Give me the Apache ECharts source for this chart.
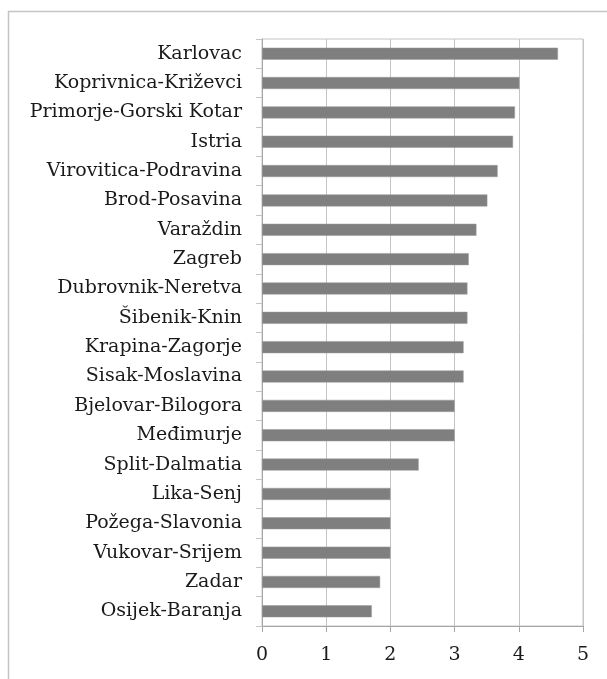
<!DOCTYPE html>
<html>
<head>
<meta charset="utf-8">
<script src="https://cdn.jsdelivr.net/npm/echarts@6/dist/echarts.min.js"></script>
<style>
html,body{margin:0;padding:0;background:#fff;}
#chart{width:607px;height:679px;}
</style>
</head>
<body>
<div id="chart"></div>
<script>
var categories = ["Karlovac","Koprivnica-Križevci","Primorje-Gorski Kotar","Istria","Virovitica-Podravina","Brod-Posavina","Varaždin","Zagreb","Dubrovnik-Neretva","Šibenik-Knin","Krapina-Zagorje","Sisak-Moslavina","Bjelovar-Bilogora","Međimurje","Split-Dalmatia","Lika-Senj","Požega-Slavonia","Vukovar-Srijem","Zadar","Osijek-Baranja"];
var values = [4.61,4.01,3.94,3.91,3.67,3.51,3.34,3.22,3.20,3.20,3.14,3.14,3.00,3.00,2.44,2.00,2.00,2.00,1.84,1.71];
var xTicks = ["0","1","2","3","4","5"];

var chart = echarts.init(document.getElementById('chart'), null, {renderer:'canvas'});
var font = '"DejaVu Serif", serif';
chart.setOption({
  animation:false,
  backgroundColor:'#fff',
  graphic:[{type:'rect', shape:{x:8.5,y:11.5,width:800,height:800}, style:{fill:'none',stroke:'#c4c4c4',lineWidth:1.5}, z:-1}],
  grid:{left:262,right:24,top:39,bottom:53,show:true,borderColor:'#c4c4c4',borderWidth:1},
  xAxis:{type:'value',min:0,max:5,interval:1,
    axisLine:{show:true,lineStyle:{color:'#a6a6a6'}},
    axisTick:{show:true,length:6,lineStyle:{color:'#a6a6a6'}},
    splitLine:{show:true,lineStyle:{color:'#c4c4c4'}},
    axisLabel:{margin:20,fontFamily:font,fontSize:19,color:'#1a1a1a',
      formatter:function(v){return xTicks[Math.round(v)];}}},
  yAxis:{type:'category',data:categories,inverse:true,
    axisLine:{show:true,lineStyle:{color:'#a6a6a6'}},
    axisTick:{show:true,length:6,lineStyle:{color:'#c4c4c4'}},
    splitLine:{show:false},
    axisLabel:{margin:20,fontFamily:font,fontSize:19,color:'#1a1a1a'}},
  series:[{type:'bar',data:values,barWidth:12,
    itemStyle:{color:'#7f7f7f',borderColor:'#9a9a9a',borderWidth:0.5}}]
});
</script>
</body>
</html>
